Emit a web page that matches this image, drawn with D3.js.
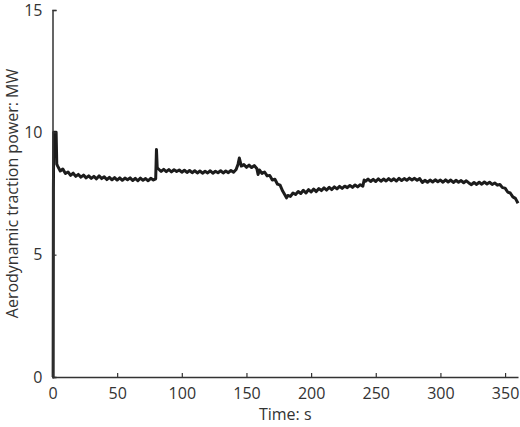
<!DOCTYPE html>
<html>
<head>
<meta charset="utf-8">
<script src="https://cdn.jsdelivr.net/npm/d3@7"></script>
<style>
  body { margin: 0; background: #fff; }
  text { font-family: "Open Sans", sans-serif; fill: #333; }
</style>
</head>
<body>
<div class="chart"></div>
<script>
const width = 520;
const height = 427;
const margin = {top: 10, right: 2, bottom: 50, left: 52.5};

const xTicks = [0, 50, 100, 150, 200, 250, 300, 350];
const yTicks = [0, 5, 10, 15];

// time in s
const timeS = [
  0, 0.5, 0.7, 1.0, 2.8, 3.3,
  4, 6, 8, 10, 12, 14, 16, 18, 20, 22,
  24, 26, 28, 30, 32, 34, 36, 38, 40, 42,
  44, 46, 48, 50, 52, 54, 56, 58, 60, 62,
  64, 66, 68, 70, 72, 74, 76, 78, 79.8, 80.4, 81,
  82, 84, 86, 88, 90, 92, 94, 96, 98, 100,
  102, 104, 106, 108, 110, 112, 114, 116, 118, 120,
  122, 124, 126, 128, 130, 132, 134, 136, 138, 140,
  142, 143.5, 144.5, 146, 148, 150, 152, 154, 156, 158, 159,
  160, 162, 164, 166, 168, 170, 172, 174, 176, 178, 180, 181,
  182, 184, 186, 188, 190, 192, 194, 196, 198, 200,
  202, 204, 206, 208, 210, 212, 214, 216, 218, 220,
  222, 224, 226, 228, 230, 232, 234, 236, 238, 240, 241,
  242, 244, 246, 248, 250, 252, 254, 256, 258, 260,
  262, 264, 266, 268, 270, 272, 274, 276, 278, 280,
  282, 284, 286, 288, 290, 292, 294, 296, 298, 300,
  302, 304, 306, 308, 310, 312, 314, 316, 318, 320,
  322, 324, 326, 328, 330, 332, 334, 336, 338, 340,
  342, 344, 346, 348, 350, 352, 354, 356, 358, 360
];

// aerodynamic traction power in MW
const powerMW = [
  0, 0, 7.7, 10.0, 10.0, 8.7,
  8.62, 8.42, 8.50, 8.32, 8.38, 8.24, 8.33, 8.20, 8.28, 8.17,
  8.25, 8.14, 8.22, 8.12, 8.20, 8.10, 8.22, 8.11, 8.18, 8.07,
  8.16, 8.06, 8.15, 8.05, 8.14, 8.04, 8.13, 8.06, 8.14, 8.03,
  8.12, 8.02, 8.13, 8.04, 8.11, 8.02, 8.12, 8.05, 8.10, 9.30, 8.55,
  8.50, 8.40, 8.49, 8.39, 8.48, 8.38, 8.47, 8.40, 8.46, 8.37,
  8.45, 8.36, 8.44, 8.35, 8.43, 8.34, 8.42, 8.33, 8.41, 8.34,
  8.43, 8.33, 8.41, 8.35, 8.43, 8.34, 8.42, 8.35, 8.44, 8.37,
  8.48, 8.70, 8.95, 8.62, 8.68, 8.57, 8.66, 8.56, 8.64, 8.52, 8.28,
  8.46, 8.32, 8.38, 8.22, 8.24, 8.05, 8.08, 7.88, 7.84, 7.60, 7.42, 7.32,
  7.42, 7.38, 7.52, 7.46, 7.58, 7.50, 7.63, 7.52, 7.66, 7.56,
  7.68, 7.58, 7.70, 7.62, 7.73, 7.64, 7.75, 7.66, 7.77, 7.69,
  7.79, 7.71, 7.80, 7.74, 7.83, 7.75, 7.85, 7.77, 7.86, 7.80, 8.05,
  8.00, 8.09, 7.99, 8.08, 7.99, 8.10, 8.00, 8.09, 8.01, 8.11,
  8.02, 8.10, 8.01, 8.12, 8.03, 8.11, 8.04, 8.13, 8.05, 8.12,
  8.04, 8.11, 7.95, 8.04, 7.96, 8.05, 7.97, 8.06, 7.98, 8.05,
  7.96, 8.06, 7.97, 8.05, 7.95, 8.04, 7.96, 8.03, 7.94, 8.02,
  7.93, 7.86, 7.95, 7.87, 7.96, 7.88, 7.97, 7.89, 7.96, 7.87,
  7.93, 7.84, 7.87, 7.74, 7.72, 7.56, 7.52, 7.36, 7.30, 7.10
];

const trace = timeS.map((t, i) => ({t, p: powerMW[i]}));

const svg = d3.select(".chart")
  .append("svg")
  .attr("width", width)
  .attr("height", height);

const x = d3.scaleLinear().domain([0, 360]).range([margin.left, width - margin.right]);
const y = d3.scaleLinear().domain([0, 15]).range([height - margin.bottom, margin.top]);

// data trace
svg.append("path")
  .datum(trace)
  .attr("fill", "none")
  .attr("stroke", "#1c1c1c")
  .attr("stroke-width", 3)
  .attr("stroke-linejoin", "round")
  .attr("d", d3.line().x(d => x(d.t)).y(d => y(d.p)));

// axes with inward ticks
const xAxis = svg.append("g")
  .attr("transform", `translate(0,${y(0)})`)
  .call(d3.axisBottom(x).tickValues(xTicks).tickSizeInner(-4).tickSizeOuter(0).tickPadding(11));

const yAxis = svg.append("g")
  .attr("transform", `translate(${x(0)},0)`)
  .call(d3.axisLeft(y).tickValues(yTicks).tickSizeInner(-4).tickSizeOuter(-4).tickPadding(10));

for (const ax of [xAxis, yAxis]) {
  ax.select(".domain").attr("stroke", "#333").attr("stroke-width", 1.5);
  ax.selectAll(".tick line").attr("stroke", "#333").attr("stroke-width", 1.2);
  ax.selectAll(".tick text")
    .attr("font-family", "Open Sans, sans-serif")
    .attr("font-size", 16)
    .attr("fill", "#333");
}

svg.append("text")
  .attr("x", (x(0) + x(360)) / 2)
  .attr("y", 420)
  .attr("text-anchor", "middle")
  .attr("font-size", 16)
  .text("Time: s");

svg.append("text")
  .attr("transform", `translate(18,${(y(0) + y(15)) / 2}) rotate(-90)`)
  .attr("text-anchor", "middle")
  .attr("font-size", 16)
  .text("Aerodynamic traction power: MW");
</script>
</body>
</html>
